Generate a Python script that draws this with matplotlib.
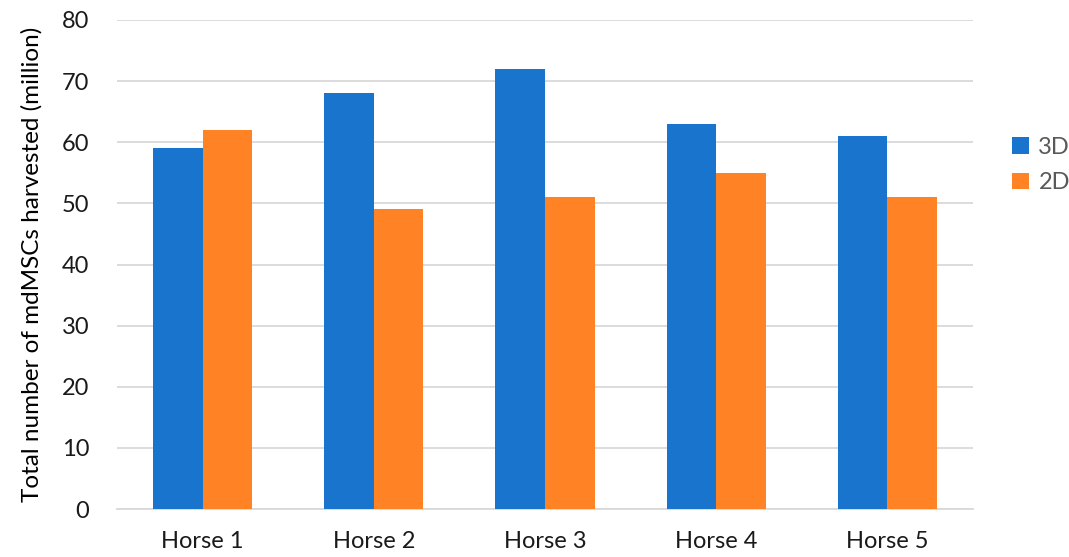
import numpy as np
import matplotlib.pyplot as plt

plt.rcParams['font.family'] = ['Lato', 'DejaVu Sans']

horses = ["Horse 1", "Horse 2", "Horse 3", "Horse 4", "Horse 5"]
vals_3d = [59, 68, 72, 63, 61]
vals_2d = [62, 49, 51, 55, 51]

fig = plt.figure(figsize=(10.69, 5.57), dpi=100)
ax = fig.add_axes([117/1069, 1 - 509/557, (973-117)/1069, (509-20)/557])

x = np.arange(len(horses))
w = 0.29
ax.bar(x - w/2, vals_3d, w, color="#1874CD", label="3D", zorder=3)
ax.bar(x + w/2, vals_2d, w, color="#FF8225", label="2D", zorder=3)

ax.set_xlim(-0.5, 4.5)
ax.set_ylim(0, 80)
ax.set_yticks(range(0, 81, 10))
ax.set_xticks(x)
ax.set_xticklabels(horses, fontsize=17)
ax.tick_params(axis='y', labelsize=17, length=0, pad=20, labelcolor="#1a1a1a")
ax.tick_params(axis='x', length=0, pad=16, labelcolor="#1a1a1a")
ax.grid(axis='y', color="#D9D9D9", linewidth=1.3, zorder=0)
for s in ['top', 'right', 'left']:
    ax.spines[s].set_visible(False)
ax.spines['bottom'].set_color("#D9D9D9")
ax.spines['bottom'].set_linewidth(1.3)

ax.set_ylabel("Total number of mdMSCs harvested (million)", fontsize=17.5, labelpad=14)

leg = fig.legend(loc='center left', bbox_to_anchor=(1003/1069, 1 - 165/557), frameon=False,
                 fontsize=17, handlelength=0.7, handleheight=0.7, labelspacing=0.6,
                 handletextpad=0.4, borderaxespad=0)
for t in leg.get_texts():
    t.set_color("#595959")

fig.savefig("out.png", dpi=100)
